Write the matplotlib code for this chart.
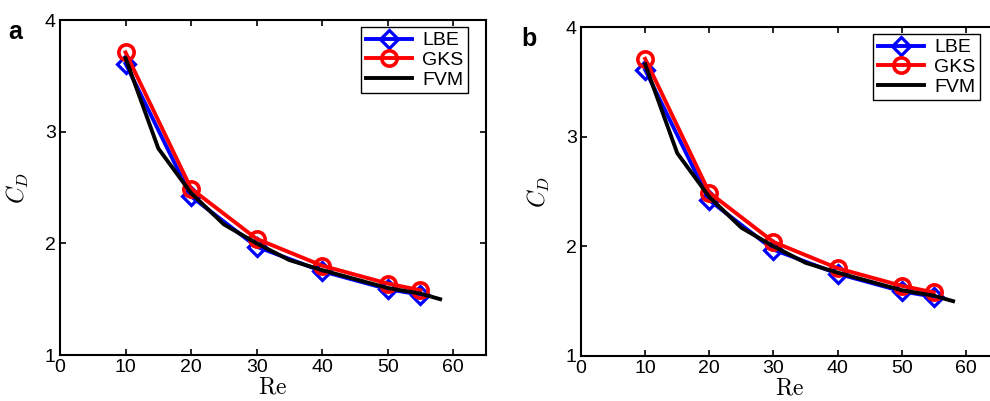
import matplotlib
matplotlib.use("Agg")
import matplotlib.pyplot as plt

# Data
re_pts = [10, 20, 30, 40, 50, 55]
cd_lbe = [3.61, 2.42, 1.97, 1.75, 1.59, 1.54]
cd_gks = [3.71, 2.49, 2.04, 1.80, 1.64, 1.58]
re_fvm = [10, 15, 20, 25, 30, 35, 40, 45, 50, 55, 58]
cd_fvm = [3.66, 2.85, 2.45, 2.17, 2.00, 1.85, 1.76, 1.68, 1.60, 1.55, 1.50]

xticks = [0, 10, 20, 30, 40, 50, 60]
yticks = [1, 2, 3, 4]

plt.rcParams["font.family"] = ["Liberation Sans", "DejaVu Sans"]
plt.rcParams["mathtext.fontset"] = "cm"

W, H = 990, 401
fig = plt.figure(figsize=(W / 100, H / 100), dpi=100)

# (left, top, right, bottom) in pixels, legend (right, top), panel letter position
panels = [
    dict(box=(60, 20, 486, 355), leg=(468, 27), letter="a", lpos=(8, 32)),
    dict(box=(581, 27, 998, 356), leg=(980, 34), letter="b", lpos=(521, 39)),
]

for p in panels:
    l, t, r, b = p["box"]
    ax = fig.add_axes([l / W, 1 - b / H, (r - l) / W, (b - t) / H])
    ax.plot(re_pts, cd_lbe, color="blue", lw=2.8, marker="D", ms=9.5,
            mfc="none", mec="blue", mew=2.3, label="LBE")
    ax.plot(re_pts, cd_gks, color="red", lw=2.8, marker="o", ms=11,
            mfc="none", mec="red", mew=2.6, label="GKS")
    ax.plot(re_fvm, cd_fvm, color="black", lw=2.8, label="FVM")

    ax.set_xlim(0, 65)
    ax.set_ylim(1, 4)
    ax.set_xticks(xticks)
    ax.set_yticks(yticks)
    ax.tick_params(direction="in", top=True, right=True, length=4,
                   width=1.2, labelsize=14, pad=3)
    for s in ax.spines.values():
        s.set_linewidth(1.5)
    ax.set_xlabel(r"$\mathrm{Re}$", fontsize=17, labelpad=0)
    ax.set_ylabel(r"$C_D$", fontsize=17, labelpad=10)

    leg = ax.legend(loc="upper right", bbox_to_anchor=(p["leg"][0] / W, 1 - p["leg"][1] / H),
                    bbox_transform=fig.transFigure, borderaxespad=0, fancybox=False,
                    framealpha=1, edgecolor="black", fontsize=14, handlelength=2.4,
                    labelspacing=0.1, borderpad=0.25, handletextpad=0.5)
    leg.get_frame().set_linewidth(1.0)

    fig.text(p["lpos"][0] / W, 1 - p["lpos"][1] / H, p["letter"], fontsize=18,
             fontweight="bold", va="center", ha="left")

fig.savefig("out.png", dpi=100)
